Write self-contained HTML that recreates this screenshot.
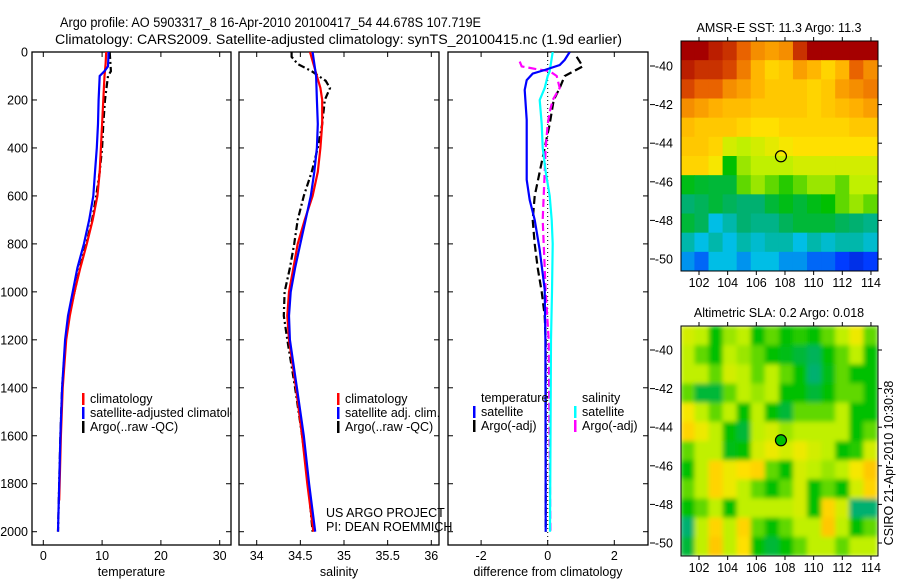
<!DOCTYPE html>
<html><head><meta charset="utf-8"><style>
html,body{margin:0;padding:0;background:#fff;}
svg{display:block;font-family:"Liberation Sans",sans-serif;}
</style></head><body>
<svg id="fig" width="900" height="580" xmlns="http://www.w3.org/2000/svg">
<rect width="900" height="580" fill="#fff"/>
<text x="60" y="27" font-size="13.5" textLength="421" lengthAdjust="spacingAndGlyphs">Argo profile: AO 5903317_8 16-Apr-2010 20100417_54 44.678S 107.719E</text>
<text x="55" y="44" font-size="13.5" textLength="567" lengthAdjust="spacingAndGlyphs">Climatology: CARS2009. Satellite-adjusted climatology: synTS_20100415.nc (1.9d earlier)</text>
<g id="plots"></g>
</svg>
<script>
// ---------- data ----------
const tClimDepth=[0,50,100,200,300,400,500,600,700,800,900,1000,1100,1200,1400,1600,1870];
const tClimVal=[10.7,10.6,10.4,10.2,10.0,9.8,9.6,9.2,8.4,7.4,6.3,5.3,4.5,3.9,3.3,3.0,2.7];
const tSatDepth=[0,60,80,100,200,300,400,500,600,700,800,900,1000,1100,1200,1400,1600,1800,2000];
const tSatVal=[11.1,11.0,10.4,9.6,9.4,9.3,9.1,8.8,8.5,7.8,6.9,5.8,5.0,4.2,3.7,3.2,2.9,2.7,2.5];
const tArgoDepth=[0,80,100,200,300,400,500,600,700,800,900,1000,1100,1200,1400,1600,1800,2000];
const tArgoVal=[11.3,11.5,11.0,10.5,10.2,10.0,9.6,9.0,8.3,7.3,6.2,5.3,4.4,3.8,3.2,2.9,2.7,2.5];
const sClimDepth=[0,100,150,200,300,400,500,600,700,800,900,1000,1100,1200,1400,1600,1800,2000];
const sClimVal=[34.61,34.69,34.73,34.75,34.75,34.73,34.70,34.64,34.55,34.47,34.42,34.37,34.35,34.37,34.45,34.52,34.58,34.65];
const sSatDepth=[0,100,200,300,400,500,600,700,800,900,1000,1100,1200,1400,1600,1800,2000];
const sSatVal=[34.64,34.68,34.69,34.70,34.69,34.66,34.62,34.56,34.50,34.44,34.39,34.37,34.38,34.46,34.54,34.60,34.67];
const sArgoDepth=[0,20,50,80,120,150,200,300,400,500,600,700,800,900,1000,1100,1200,1400,1600,1800,2000];
const sArgoVal=[34.40,34.40,34.47,34.63,34.79,34.84,34.78,34.75,34.70,34.63,34.54,34.47,34.43,34.38,34.32,34.31,34.35,34.44,34.52,34.59,34.64];
const dTSatDepth=[0,33,54,75,90,117,158,283,533,617,700,825,990,1200,2000];
const dTSatVal=[0.66,0.51,0.36,-0.09,-0.45,-0.63,-0.69,-0.63,-0.63,-0.54,-0.39,-0.24,-0.09,-0.07,-0.06];
const dSSatDepth=[0,80,100,150,200,300,400,500,600,700,800,1000,1200,2000];
const dSSatVal=[0.15,0.06,0,-0.09,-0.24,-0.18,-0.15,-0.06,0.06,0.12,0.15,0.13,0.1,0.07];
const dTArgoDepth=[20,40,60,100,150,200,250,300,400,500,600,700,800,900,1000,1100,1200,2000];
const dTArgoVal=[0.87,0.96,1.05,0.51,0.36,0.18,0.12,0.06,-0.09,-0.24,-0.39,-0.45,-0.39,-0.3,-0.18,-0.09,-0.06,-0.06];
const dSArgoDepth=[40,60,70,80,100,150,200,250,300,400,500,600,700,800,1000,1200,2000];
const dSArgoVal=[-0.84,-0.78,-0.39,0.06,0.27,0.36,0.15,0.06,0,-0.06,-0.09,-0.12,-0.15,-0.12,-0.06,0.03,0.08];
const depthTicks=[0,200,400,600,800,1000,1200,1400,1600,1800,2000];
const tempTicks=[0,10,20,30];
const salTicks=[34,34.5,35,35.5,36];
const diffTicks=[-2,0,2];
const latTicks=[-40,-42,-44,-46,-48,-50];
const lonTicks=[102,104,106,108,110,112,114];
const sstGrid=[
[.95,.95,.92,.9,.85,.8,.78,.8,.9,.95,.95,.95,.95,.95],
[.92,.9,.9,.88,.82,.75,.7,.72,.78,.75,.7,.75,.85,.8],
[.88,.85,.85,.8,.78,.75,.72,.72,.72,.7,.72,.78,.8,.82],
[.8,.78,.76,.74,.74,.72,.72,.72,.72,.7,.72,.74,.76,.78],
[.74,.72,.72,.72,.7,.68,.68,.7,.7,.7,.7,.7,.72,.72],
[.72,.72,.7,.62,.6,.62,.64,.66,.68,.68,.68,.68,.68,.68],
[.7,.7,.66,.5,.58,.6,.6,.6,.62,.62,.62,.62,.62,.62],
[.48,.46,.45,.45,.55,.58,.55,.52,.55,.58,.58,.55,.6,.6],
[.4,.42,.45,.42,.4,.4,.45,.48,.45,.48,.5,.55,.58,.55],
[.45,.42,.3,.35,.4,.38,.38,.42,.45,.45,.45,.42,.4,.38],
[.35,.3,.35,.3,.35,.32,.35,.35,.3,.35,.32,.35,.35,.32],
[.25,.2,.3,.3,.25,.3,.3,.25,.25,.2,.2,.15,.12,.15]];
const slaGrid=[
[.62,.6,.5,.58,.6,.5,.55,.5,.52,.5,.55,.6,.65,.55],
[.6,.55,.5,.6,.58,.55,.5,.48,.45,.42,.5,.55,.6,.5],
[.6,.6,.55,.62,.6,.55,.6,.55,.5,.4,.48,.55,.5,.5],
[.55,.45,.45,.55,.6,.58,.6,.5,.5,.45,.5,.55,.55,.5],
[.66,.6,.55,.6,.5,.6,.5,.45,.55,.55,.55,.6,.5,.5],
[.7,.65,.6,.5,.45,.6,.62,.58,.6,.6,.6,.6,.5,.55],
[.55,.6,.6,.48,.5,.62,.65,.62,.65,.62,.6,.5,.52,.62],
[.5,.6,.7,.65,.68,.7,.55,.5,.62,.6,.58,.6,.66,.72],
[.55,.6,.7,.65,.6,.55,.5,.55,.62,.5,.55,.5,.62,.7],
[.5,.55,.6,.5,.6,.6,.6,.6,.62,.5,.7,.62,.4,.4],
[.4,.6,.7,.6,.7,.55,.5,.55,.6,.6,.72,.6,.5,.55],
[.45,.6,.72,.6,.68,.5,.45,.5,.55,.6,.6,.55,.6,.6]];
const argoLon=107.719, argoLat=-44.678;

// ---------- helpers ----------
const NS="http://www.w3.org/2000/svg";
const root=document.getElementById('plots');
function mk(tag,attrs,parent){const e=document.createElementNS(NS,tag);for(const k in attrs)e.setAttribute(k,attrs[k]);(parent||root).appendChild(e);return e;}
const TOP=52,BOT=545;
const yDepth=d=>TOP+d*(531.7-52)/2000;
function txt(x,y,s,size,anchor,parent){const t=mk('text',{x:x,y:y,'font-size':size,'text-anchor':anchor||'start'},parent);t.textContent=s;return t;}

function panel(name,x0,x1,xs,ticks,tickFmt,xlabel,leftLabels){
  const g=mk('g',{});
  
  
  const r=mk('rect',{x:x0,y:TOP,width:x1-x0,height:BOT-TOP,fill:'none',stroke:'#000','stroke-width':1.3},g);
  
  
  depthTicks.forEach(d=>{const y=yDepth(d);
    mk('line',{x1:x0,x2:x0+5,y1:y,y2:y,stroke:'#000'},g);
    mk('line',{x1:x1-5,x2:x1,y1:y,y2:y,stroke:'#000'},g);
    if(leftLabels){const t=txt(x0-4,y+4.5,String(d),12.5,'end',g);
      
      }
  });
  ticks.forEach(v=>{const x=xs(v);
    mk('line',{x1:x,x2:x,y1:TOP,y2:TOP+5,stroke:'#000'},g);
    mk('line',{x1:x,x2:x,y1:BOT-5,y2:BOT,stroke:'#000'},g);
    const t=txt(x,560,tickFmt(v),12.5,'middle',g);
    
    
  });
  const xl=txt((x0+x1)/2,576,xlabel,12.5,'middle',g);
  
  
  return g;
}
function series(g,name,depths,vals,xs,color,dash,clip){
  let d='';
  depths.forEach((dp,i)=>{d+=(i?'L':'M')+xs(vals[i]).toFixed(1)+','+yDepth(dp).toFixed(1);});
  const p=mk('path',{d:d,fill:'none',stroke:color,'stroke-width':2.2,'stroke-dasharray':dash||'none','clip-path':clip},g);
  
  
}
function legend(g,x,y,color,label,name){
  mk('rect',{x:x,y:y-10,width:2.5,height:12,fill:color},g);
  const t=txt(x+8,y,label,12.5,'start',g);
  
  
}
const defs=mk('defs',{});
[['c1',32,231],['c2',239,439],['c3',448,648]].forEach(c=>{const cp=mk('clipPath',{id:c[0]},defs);mk('rect',{x:c[1],y:TOP,width:c[2]-c[1],height:BOT-TOP},cp);});

// ---------- temperature panel ----------
const xT=v=>43.3+v*5.88;
const g1=panel('temperature-panel',32,231,xT,tempTicks,v=>String(v),'temperature',true);
series(g1,'temp-argo-line',tArgoDepth,tArgoVal,xT,'#000','7,3,2,3');
series(g1,'temp-climatology-line',tClimDepth,tClimVal,xT,'#f00');
series(g1,'temp-satellite-line',tSatDepth,tSatVal,xT,'#00f');
const lg1=mk('g',{'clip-path':'url(#c1)'},g1);
legend(lg1,82,403,'#f00','climatology','legend-climatology');
legend(lg1,82,417,'#00f','satellite-adjusted climatology','legend-satellite-adjusted');
legend(lg1,82,431,'#000','Argo(..raw -QC)','legend-argo');

// ---------- salinity panel ----------
const xS=v=>256.7+(v-34)*87.3;
const g2=panel('salinity-panel',239,439,xS,salTicks,v=>String(v),'salinity',false);
series(g2,'sal-argo-line',sArgoDepth,sArgoVal,xS,'#000','7,3,2,3');
series(g2,'sal-climatology-line',sClimDepth,sClimVal,xS,'#f00');
series(g2,'sal-satellite-line',sSatDepth,sSatVal,xS,'#00f');
legend(g2,337,403,'#f00','climatology','legend-climatology');
legend(g2,337,417,'#00f','satellite adj. clim.','legend-satellite');
legend(g2,337,431,'#000','Argo(..raw -QC)','legend-argo');
let t=txt(326,517,'US ARGO PROJECT',12.5,'start',g2);


t=txt(326,531,'PI: DEAN ROEMMICH',12.5,'start',g2);



// ---------- difference panel ----------
const xD=v=>547.7+v*33.3;
const g3=panel('difference-panel',448,648,xD,diffTicks,v=>String(v),'difference from climatology',false);
mk('line',{x1:xD(0),x2:xD(0),y1:TOP,y2:BOT,stroke:'#000','stroke-dasharray':'1,3'},g3);
series(g3,'diff-temp-argo-line',dTArgoDepth,dTArgoVal,xD,'#000','8,4','url(#c3)');
series(g3,'diff-sal-argo-line',dSArgoDepth,dSArgoVal,xD,'#f0f','8,4','url(#c3)');
series(g3,'diff-sal-satellite-line',dSSatDepth,dSSatVal,xD,'#0ff','none','url(#c3)');
series(g3,'diff-temp-satellite-line',dTSatDepth,dTSatVal,xD,'#00f','none','url(#c3)');
t=txt(481,402,'temperature',12.5,'start',g3);


t=txt(582,402,'salinity',12.5,'start',g3);


legend(g3,473,416,'#00f','satellite','legend-temp-satellite');
legend(g3,473,430,'#000','Argo(-adj)','legend-temp-argo');
legend(g3,574,416,'#0ff','satellite','legend-sal-satellite');
legend(g3,574,430,'#f0f','Argo(-adj)','legend-sal-argo');

// ---------- maps ----------
const stops=[[0,[0,0,140]],[0.15,[0,60,255]],[0.3,[0,190,230]],[0.4,[0,176,112]],[0.5,[0,192,0]],[0.6,[192,240,0]],[0.67,[255,230,0]],[0.76,[255,176,0]],[0.86,[230,90,0]],[0.95,[165,0,0]],[1,[140,0,0]]];
function cmap(v){for(let i=1;i<stops.length;i++){if(v<=stops[i][0]){const a=stops[i-1],b=stops[i],f=(v-a[0])/(b[0]-a[0]);return 'rgb('+a[1].map((c,k)=>Math.round(c+(b[1][k]-c)*f)).join(',')+')';}}return 'rgb(140,0,0)';}
function drawMap(name,grid,top,bot,latRef,title,filledMarker,blur){
  const X0=681,X1=878;
  const g=mk('g',{});
  
  
  const lonX=lon=>699+(lon-102)*14.33;
  const latY=lat=>latRef+(-40-lat)*19.3;
  const lat0=-40-(top-latRef)/19.3, lat1=-40-(bot-latRef)/19.3;
  const lon0=100.7, lon1=114.45;
  const nr=grid.length,nc=grid[0].length;
  const cp=mk('clipPath',{id:'clip-'+name},defs);mk('rect',{x:X0,y:top,width:X1-X0,height:bot-top},cp);
  const outer=mk('g',{'clip-path':'url(#clip-'+name+')'},g);
  const cg=mk('g',blur?{filter:'url(#blur)'}:{},outer);
  for(let r=0;r<nr;r++)for(let c=0;c<nc;c++){
    const la=lat0+(lat1-lat0)*r/nr, lb=lat0+(lat1-lat0)*(r+1)/nr;
    const oa=lon0+(lon1-lon0)*c/nc, ob=lon0+(lon1-lon0)*(c+1)/nc;
    const cell=mk('rect',{x:lonX(oa),y:latY(la),width:lonX(ob)-lonX(oa)+0.6,height:latY(lb)-latY(la)+0.6,fill:cmap(grid[r][c])},cg);
    
    
  }
  mk('rect',{x:X0,y:top,width:X1-X0,height:bot-top,fill:'none',stroke:'#000','stroke-width':1},g);
  latTicks.forEach(la=>{const y=latY(la);
    mk('line',{x1:650,x2:655,y1:y,y2:y,stroke:'#000'},g);
    mk('line',{x1:X1,x2:X1+4,y1:y,y2:y,stroke:'#000'},g);
    const tl=txt(673,y+4.5,String(la),12.5,'end',g);
    
    });
  lonTicks.forEach(lo=>{const x=lonX(lo);
    mk('line',{x1:x,x2:x,y1:top-4,y2:top,stroke:'#000'},g);
    mk('line',{x1:x,x2:x,y1:bot,y2:bot+4,stroke:'#000'},g);
    const tl=txt(x,bot+16,String(lo),12.5,'middle',g);
    
    });
  const tt=txt(779,top-9,title,12.5,'middle',g);
  
  
  const m=mk('circle',{cx:lonX(argoLon),cy:latY(argoLat),r:5.5,fill:filledMarker?'#00c000':'none',stroke:'#000','stroke-width':1.2},g);
  
  
}
const f=mk('filter',{id:'blur',x:'-5%',y:'-5%',width:'110%',height:'110%'},defs);mk('feGaussianBlur',{stdDeviation:2.5},f);
drawMap('sst-map',sstGrid,41,271,66,'AMSR-E SST: 11.3 Argo: 11.3',false,false);
drawMap('sla-map',slaGrid,326,556,350,'Altimetric SLA: 0.2 Argo: 0.018',true,true);
const st=mk('text',{x:0,y:0,'font-size':12.5,'text-anchor':'middle',transform:'translate(893,463) rotate(-90)'});
st.textContent='CSIRO 21-Apr-2010 10:30:38';


</script>
</body></html>
